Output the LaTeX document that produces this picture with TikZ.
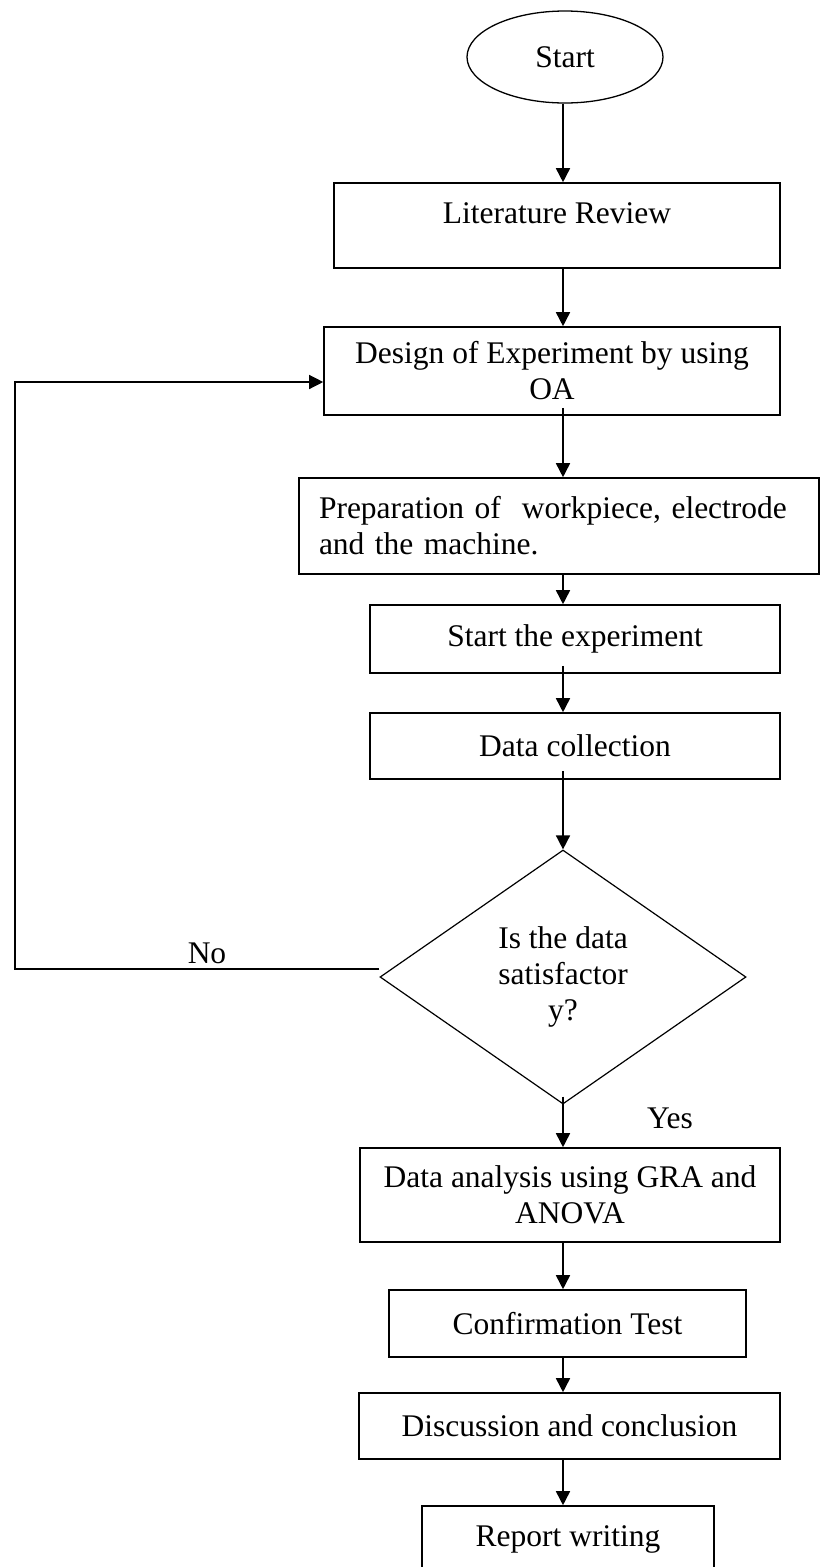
\documentclass[tikz,border=0pt]{standalone}
\usepackage{fontspec}
\setmainfont{Liberation Serif}
\usetikzlibrary{arrows.meta,shapes.geometric}

\begin{document}
\begin{tikzpicture}[
  x=1pt, y=-1pt,
  font=\fontsize{31.5}{36}\selectfont,
  box/.style={draw, line width=1.6pt, align=center, inner sep=0pt},
  term/.style={draw, ellipse, line width=1.3pt, minimum width=196pt, minimum height=92pt, inner sep=0pt},
  decision/.style={draw, diamond, line width=1.2pt, align=center, inner sep=0pt, minimum width=366pt, minimum height=254pt},
  arrow/.style={-{Triangle[length=14pt, width=14pt]}, line width=1.6pt}
]
\useasboundingbox (0,0) rectangle (821,1567);

\node[term] (start) at (565,57) {Start};
\node[box, minimum width=446pt, minimum height=85pt, text depth=24pt] (lit) at (557,225.5) {Literature Review};
\node[box, minimum width=456pt, minimum height=88pt] (design) at (552,371) {Design of Experiment by using\\OA};
\node[box, minimum width=520pt, minimum height=96pt, text width=480pt, align=left] (prep) at (559,526) {Preparation of~ workpiece, electrode\\and the machine.};
\node[box, minimum width=410pt, minimum height=68pt] (exp) at (575,639) {Start the experiment};
\node[box, minimum width=410pt, minimum height=66pt] (coll) at (575,746) {Data collection};
\node[decision] (check) at (563,977) {Is the data\\satisfactor\\y?};
\node[box, minimum width=420pt, minimum height=94pt] (gra) at (570,1195) {Data analysis using GRA and\\ANOVA};
\node[box, minimum width=357pt, minimum height=67pt] (confirm) at (567.5,1323.5) {Confirmation Test};
\node[box, minimum width=421pt, minimum height=66pt] (disc) at (569.5,1426) {Discussion and conclusion};
\node[box, minimum width=292pt, minimum height=66pt] (report) at (568,1539) {Report writing};

\node (no) at (207,953) {No};
\node (yes) at (670,1118) {Yes};

\coordinate (axis) at (563,0);
\coordinate (back) at (15,969);

\draw[arrow] (start.south -| axis) -- (lit.north -| axis);
\draw[arrow] (lit.south -| axis) -- (design.north -| axis);
\draw[arrow] ([yshift=8pt]design.south -| axis) -- (prep.north -| axis);
\draw[arrow] (prep.south -| axis) -- (exp.north -| axis);
\draw[arrow] ([yshift=8pt]exp.south -| axis) -- (coll.north -| axis);
\draw[arrow] ([yshift=9pt]coll.south -| axis) -- (check.north);
\draw[arrow] ([yshift=8pt]check.south) -- (gra.north -| check);
\draw[arrow] (gra.south -| axis) -- (confirm.north -| axis);
\draw[arrow] (confirm.south -| axis) -- (disc.north -| axis);
\draw[arrow] (disc.south -| axis) -- (report.north -| axis);
\draw[arrow, line width=1.3pt] ([yshift=8pt]check.west) -- (back) |- ([yshift=-11pt]design.west);
\end{tikzpicture}
\end{document}
